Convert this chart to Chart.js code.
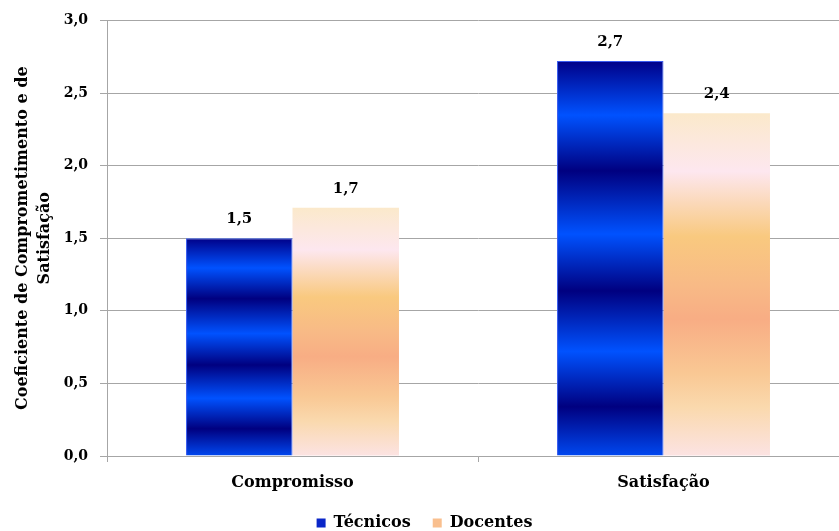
<!DOCTYPE html>
<html>
<head>
<meta charset="utf-8">
<script src="https://cdn.jsdelivr.net/npm/chart.js@4/dist/chart.umd.min.js"></script>
<style>
  html, body { margin: 0; padding: 0; overflow: hidden; background: #ffffff; }
  #wrap { position: absolute; left: 0; top: 0; width: 849px; height: 541px; }
</style>
</head>
<body>
<div id="wrap"><canvas id="chart"></canvas></div>
<script>
// Data
const categories = ['Compromisso', 'Satisfação'];
const seriesNames = ['Técnicos', 'Docentes'];
const tecnicos = [1.50, 2.72];
const docentes = [1.71, 2.36];
const yTicks = [0, 0.5, 1.0, 1.5, 2.0, 2.5, 3.0];
const yTitle = ['Coeficiente de Comprometimento e de', 'Satisfação'];

// Styling
const FONT = 'DejaVu Serif';
const GRID = '#a6a6a6';
const legendColors = ['#0a26c8', '#f9bf8e'];
const blueStops = [
  [0.000, '#000088'], [0.137, '#0052ff'], [0.278, '#000080'], [0.438, '#0052ff'],
  [0.582, '#000080'], [0.735, '#0052ff'], [0.875, '#000080'], [1.000, '#0048f0']
];
const peachStops = [
  [0.00, '#fbe9cb'], [0.17, '#fde7ef'], [0.36, '#f9c97f'], [0.50, '#f8ba86'],
  [0.60, '#f8ad84'], [0.76, '#f9c894'], [0.86, '#fad9ae'], [1.00, '#fce3e3']
];

const fmt = v => Number(v).toFixed(1).replace('.', ',');

// Vertical gradient spanning each bar from its top down to the baseline
function barGradient(stops) {
  return (ctx) => {
    const chart = ctx.chart;
    if (ctx.type !== 'data' || !chart.chartArea || !chart.scales.y) return stops[0][1];
    const y = chart.scales.y;
    const top = y.getPixelForValue(ctx.raw);
    const base = y.getPixelForValue(0);
    const g = chart.ctx.createLinearGradient(0, top, 0, base);
    stops.forEach(([o, c]) => g.addColorStop(o, c));
    return g;
  };
}

// Value labels above every bar
const valueLabels = {
  id: 'valueLabels',
  afterDatasetsDraw(chart) {
    const c = chart.ctx;
    c.save();
    c.font = `bold 15px "${FONT}"`;
    c.fillStyle = '#000000';
    c.textAlign = 'center';
    c.textBaseline = 'alphabetic';
    chart.data.datasets.forEach((ds, i) => {
      chart.getDatasetMeta(i).data.forEach((bar, j) => {
        c.fillText(fmt(ds.data[j]), bar.x, bar.y - 15);
      });
    });
    c.restore();
  }
};

new Chart(document.getElementById('chart'), {
  type: 'bar',
  data: {
    labels: categories,
    datasets: [
      {
        label: seriesNames[0],
        data: tecnicos,
        backgroundColor: barGradient(blueStops),
        borderColor: '#3a5cf0',
        borderWidth: 1,
        borderSkipped: 'bottom'
      },
      {
        label: seriesNames[1],
        data: docentes,
        backgroundColor: barGradient(peachStops),
        borderWidth: 0
      }
    ]
  },
  options: {
    responsive: true,
    maintainAspectRatio: false,
    devicePixelRatio: 1,
    animation: false,
    events: [],
    datasets: { bar: { categoryPercentage: 0.574, barPercentage: 1.0 } },
    layout: { padding: { top: 20, left: 0, right: 0, bottom: 0 } },
    scales: {
      x: {
        offset: true,
        grid: { display: true, offset: true, drawOnChartArea: false, drawTicks: true, tickLength: 6, color: GRID, lineWidth: 1 },
        border: { display: true, color: GRID, width: 1 },
        ticks: { color: '#000000', padding: 11, font: { family: FONT, size: 16, weight: 'bold' } },
        afterFit: s => { s.height = 37; }
      },
      y: {
        min: 0,
        max: 3,
        afterBuildTicks: s => { s.ticks = yTicks.map(v => ({ value: v })); },
        ticks: { color: '#000000', padding: 12, font: { family: FONT, size: 14, weight: 'bold' }, callback: v => fmt(v) },
        grid: { color: GRID, lineWidth: 1, tickLength: 7, drawTicks: true },
        border: { display: true, color: GRID, width: 1 },
        title: {
          display: true,
          text: yTitle,
          color: '#000000',
          font: { family: FONT, size: 16, weight: 'bold', lineHeight: 1.35 },
          padding: { top: 12, bottom: 0 }
        },
        afterFit: s => { s.width = 107; }
      }
    },
    plugins: {
      legend: {
        position: 'bottom',
        labels: {
          boxWidth: 9,
          boxHeight: 9,
          padding: 22,
          color: '#000000',
          font: { family: FONT, size: 16, weight: 'bold' },
          generateLabels: chart => chart.data.datasets.map((ds, i) => ({
            text: ds.label,
            fillStyle: legendColors[i],
            strokeStyle: legendColors[i],
            lineWidth: 0,
            hidden: false,
            datasetIndex: i,
            fontColor: '#000000'
          }))
        }
      },
      tooltip: { enabled: false },
      title: { display: false }
    }
  },
  plugins: [valueLabels]
});
</script>
</body>
</html>
